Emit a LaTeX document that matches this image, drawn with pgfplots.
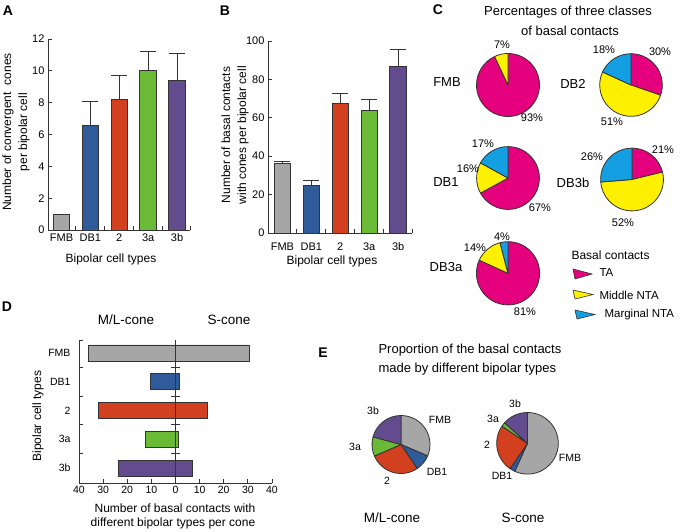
\documentclass[border=0pt]{standalone}
\usepackage{pgfplots}
\pgfplotsset{compat=1.18}
\usepackage{fontspec}
\setmainfont{Liberation Sans}

\definecolor{edge}{HTML}{333333}
\definecolor{cgray}{HTML}{A6A6A6}
\definecolor{cblue}{HTML}{2F5B9A}
\definecolor{cred}{HTML}{D2401F}
\definecolor{cgreen}{HTML}{6BBA35}
\definecolor{cpurple}{HTML}{634C8E}
\definecolor{cmag}{HTML}{E5007D}
\definecolor{cyel}{HTML}{FFF000}
\definecolor{ccyan}{HTML}{139FE1}

\newcommand{\fs}[2]{\fontsize{#1pt}{#2pt}\selectfont}

% pie inside an axis: centre in axis cs, radius in pt, list value/colour,
% slices run clockwise from twelve o'clock
\newcommand{\pie}[4]{%
  \gdef\pietotal{0}%
  \foreach \v/\c in {#4}{\pgfmathsetmacro{\tmp}{\pietotal+\v}\global\let\pietotal\tmp}%
  \gdef\pieangle{90}%
  \foreach \v/\c in {#4}{%
    \pgfmathsetmacro{\pieend}{\pieangle-\v/\pietotal*360}%
    \edef\temp{\noexpand\filldraw[fill=\c, draw=edge, line width=0.8pt, line join=round]
      (axis cs:#1,#2) -- ++(\pieangle:#3pt) arc[start angle=\pieangle, end angle=\pieend, radius=#3pt] -- cycle;}%
    \temp
    \global\let\pieangle\pieend
  }%
}

\pgfplotsset{
  barax/.style={scale only axis, anchor=south west, clip=false,
    axis x line=bottom, axis y line=left,
    axis line style={-, line width=0.9pt, draw=edge},
    tick align=inside, major tick length=4pt,
    tick style={draw=edge, line width=0.9pt},
    ticklabel style={font=\fs{11}{13}},
    /pgf/number format/assume math mode=true,
    xticklabels={,,,,,},
    extra x ticks={0,...,4}, extra x tick labels={FMB,DB1,2,3a,3b},
    extra x tick style={major tick length=0pt}},
  vbar/.style={ybar, bar width=16.5pt, bar shift=0pt, draw=edge, line width=0.9pt, fill=#1,
    error bars/.cd, y dir=plus, y explicit,
    error bar style={draw=edge, line width=0.9pt},
    error mark options={rotate=90, mark size=8pt, draw=edge, line width=0.9pt}},
  hbar/.style={xbar, bar width=16pt, bar shift=0pt, draw=edge, line width=0.9pt, fill=#1},
}

\begin{document}
\begin{tikzpicture}
\path[use as bounding box] (0,0) rectangle (680pt,-532pt);

% ---------- canvas axis: texts and pies ----------
\begin{axis}[at={(0pt,0pt)}, anchor=north west, scale only axis,
  width=680pt, height=532pt, xmin=0, xmax=680, ymin=0, ymax=532,
  y dir=reverse, hide axis, clip=false]
  % panel letters
  \node[font=\fs{14}{16}\bfseries] at (axis cs:8,11) {A};
  \node[font=\fs{14}{16}\bfseries] at (axis cs:225,11) {B};
  \node[font=\fs{14}{16}\bfseries] at (axis cs:438,10) {C};
  \node[font=\fs{14}{16}\bfseries] at (axis cs:7,307) {D};
  \node[font=\fs{14}{16}\bfseries] at (axis cs:323,353) {E};

  % A and B labels
  \node[rotate=90, align=center, font=\fs{12}{16}] at (axis cs:16,132) {Number of convergent\ \ cones\\per bipolar cell};
  \node[font=\fs{12}{14}] at (axis cs:111,259) {Bipolar cell types};
  \node[rotate=90, align=center, font=\fs{12}{16}] at (axis cs:235,135) {Number of basal contacts\\with cones per bipolar cell};
  \node[font=\fs{12}{14}] at (axis cs:332,261) {Bipolar cell types};

  % C
  \node[font=\fs{13}{15}] at (axis cs:568,12) {Percentages of three classes};
  \node[font=\fs{13}{15}] at (axis cs:570,31) {of basal contacts};
  \pie{508}{85}{31.5}{93/cmag,7/cyel}
  \pie{631}{85}{31.3}{30/cmag,51/cyel,18/ccyan}
  \pie{508}{178}{31.4}{67/cmag,16/cyel,17/ccyan}
  \pie{632}{179.5}{31.4}{21/cmag,52/cyel,26/ccyan}
  \pie{508}{273.3}{31.6}{81/cmag,14/cyel,4/ccyan}
  \node[font=\fs{13}{15}] at (axis cs:447,82) {FMB};
  \node[font=\fs{13}{15}] at (axis cs:573,84) {DB2};
  \node[font=\fs{13}{15}] at (axis cs:446,182) {DB1};
  \node[font=\fs{13}{15}] at (axis cs:573,183) {DB3b};
  \node[font=\fs{13}{15}] at (axis cs:446,267) {DB3a};
  \begin{scope}[every node/.style={font=\fs{11}{13}}]
  \node at (axis cs:502,45) {7\%};
  \node at (axis cs:532,118) {93\%};
  \node at (axis cs:604,50) {18\%};
  \node at (axis cs:660,52) {30\%};
  \node at (axis cs:612,122) {51\%};
  \node at (axis cs:483,144) {17\%};
  \node at (axis cs:468,169) {16\%};
  \node at (axis cs:540,208) {67\%};
  \node at (axis cs:592,157) {26\%};
  \node at (axis cs:663,150) {21\%};
  \node at (axis cs:623,223) {52\%};
  \node at (axis cs:475,248) {14\%};
  \node at (axis cs:502,237) {4\%};
  \node at (axis cs:525,312) {81\%};
  \end{scope}
  % C legend
  \node[font=\fs{12}{14}, anchor=west] at (axis cs:568,255) {Basal contacts};
  \filldraw[fill=cmag, draw=edge, line width=0.6pt] (axis cs:573,269) -- (axis cs:592,274) -- (axis cs:575,279) -- cycle;
  \filldraw[fill=cyel, draw=edge, line width=0.6pt] (axis cs:573,290) -- (axis cs:593,294.5) -- (axis cs:575,299) -- cycle;
  \filldraw[fill=ccyan, draw=edge, line width=0.6pt] (axis cs:575,310) -- (axis cs:595,314.5) -- (axis cs:577,319) -- cycle;
  \node[font=\fs{11.5}{13}, anchor=west] at (axis cs:596,273) {TA};
  \node[font=\fs{11.5}{13}, anchor=west] at (axis cs:596,295) {Middle NTA};
  \node[font=\fs{11.5}{13}, anchor=west] at (axis cs:601,315) {Marginal NTA};

  % D labels
  \node[font=\fs{13.5}{15}] at (axis cs:126,320) {M/L-cone};
  \node[font=\fs{13.5}{15}] at (axis cs:229,320) {S-cone};
  \node[rotate=90, font=\fs{12}{14}] at (axis cs:38,416) {Bipolar cell types};
  \node[font=\fs{12}{14}] at (axis cs:175,508) {Number of basal contacts with};
  \node[font=\fs{12}{14}] at (axis cs:173,523) {different bipolar types per cone};

  % E
  \node[font=\fs{13}{15}, anchor=west] at (axis cs:375,350) {Proportion of the basal contacts};
  \node[font=\fs{13}{15}, anchor=west] at (axis cs:375,369) {made by different bipolar types};
  % same counts as panel D: FMB, DB1, 2, 3a, 3b
  \pie{401}{444.5}{29}{36/cgray,10.5/cblue,32/cred,12.3/cgreen,23.8/cpurple}
  \pie{527.5}{443.3}{30.8}{30.5/cgray,1.5/cblue,13.3/cred,1.2/cgreen,7.2/cpurple}
  \begin{scope}[every node/.style={font=\fs{10.5}{12}}]
  \node at (axis cs:373,411) {3b};
  \node at (axis cs:440,420) {FMB};
  \node at (axis cs:355,447) {3a};
  \node at (axis cs:437,472) {DB1};
  \node at (axis cs:387,481) {2};
  \node at (axis cs:515,404) {3b};
  \node at (axis cs:493,419) {3a};
  \node at (axis cs:487,445) {2};
  \node at (axis cs:570,458) {FMB};
  \node at (axis cs:502,476) {DB1};
  \end{scope}
  \node[font=\fs{13.5}{15}] at (axis cs:392,518) {M/L-cone};
  \node[font=\fs{13.5}{15}] at (axis cs:523,518) {S-cone};
\end{axis}

% ---------- A ----------
\begin{axis}[barax, at={(48pt,-230pt)}, width=142pt, height=191pt,
  xmin=-0.467, xmax=4.45, ymin=0, ymax=12,
  xtick={0.5,1.5,2.5,3.5,4.45}, ytick={0,2,...,12}]
  \addplot[vbar=cgray] coordinates {(0,1.0)};
  \addplot[vbar=cblue] coordinates {(1,6.6) +- (0,1.5)};
  \addplot[vbar=cred] coordinates {(2,8.2) +- (0,1.5)};
  \addplot[vbar=cgreen] coordinates {(3,10.0) +- (0,1.2)};
  \addplot[vbar=cpurple] coordinates {(4,9.4) +- (0,1.7)};
\end{axis}

% ---------- B ----------
\begin{axis}[barax, at={(268pt,-233pt)}, width=144pt, height=192pt,
  xmin=-0.5, xmax=4.48, ymin=0, ymax=100,
  xtick={0.5,1.5,2.5,3.5,4.48}, ytick={0,20,...,100},
  extra x tick style={major tick length=0pt, tick label style={yshift=-6pt}}]
  \addplot[vbar=cgray] coordinates {(0,36.3) +- (0,1.2)};
  \addplot[vbar=cblue] coordinates {(1,25.0) +- (0,2.2)};
  \addplot[vbar=cred] coordinates {(2,67.5) +- (0,5.3)};
  \addplot[vbar=cgreen] coordinates {(3,64.0) +- (0,5.6)};
  \addplot[vbar=cpurple] coordinates {(4,86.5) +- (0,9.3)};
\end{axis}

% ---------- D ----------
\begin{axis}[scale only axis, anchor=south west, clip=false,
  at={(79pt,-483pt)}, width=193pt, height=143pt,
  xmin=-40, xmax=40, ymin=-0.52, ymax=4.45,
  axis x line=bottom, axis y line=left,
  axis line style={-, line width=0.9pt, draw=edge},
  tick align=inside, major tick length=4pt,
  tick style={draw=edge, line width=0.9pt},
  ticklabel style={font=\fs{10.5}{12}},
  /pgf/number format/assume math mode=true,
  xtick={-40,-30,...,40}, xticklabels={40,30,20,10,0,10,20,30,40},
  ytick={0.5,1.5,2.5,3.5,4.45}, yticklabels={,,,,,},
  extra y ticks={0,...,4}, extra y tick labels={3b,3a,2,DB1,FMB},
  extra y tick style={major tick length=0pt, tick label style={xshift=-5pt}}]
  \addplot[hbar=cgray] coordinates {(-36,4) (30.5,4)};
  \addplot[hbar=cblue] coordinates {(-10.5,3) (1.5,3)};
  \addplot[hbar=cred] coordinates {(-32,2) (13.3,2)};
  \addplot[hbar=cgreen] coordinates {(-12.3,1) (1.2,1)};
  \addplot[hbar=cpurple] coordinates {(-23.8,0) (7.2,0)};
  \draw[edge, line width=0.9pt] (axis cs:0,-0.52) -- (axis cs:0,4.45);
  \foreach \s in {0.5,1.5,2.5,3.5}{\edef\temp{\noexpand\draw[edge, line width=0.9pt] (axis cs:-1.8,\s) -- (axis cs:1.8,\s);}\temp}
\end{axis}
\end{tikzpicture}
\end{document}
